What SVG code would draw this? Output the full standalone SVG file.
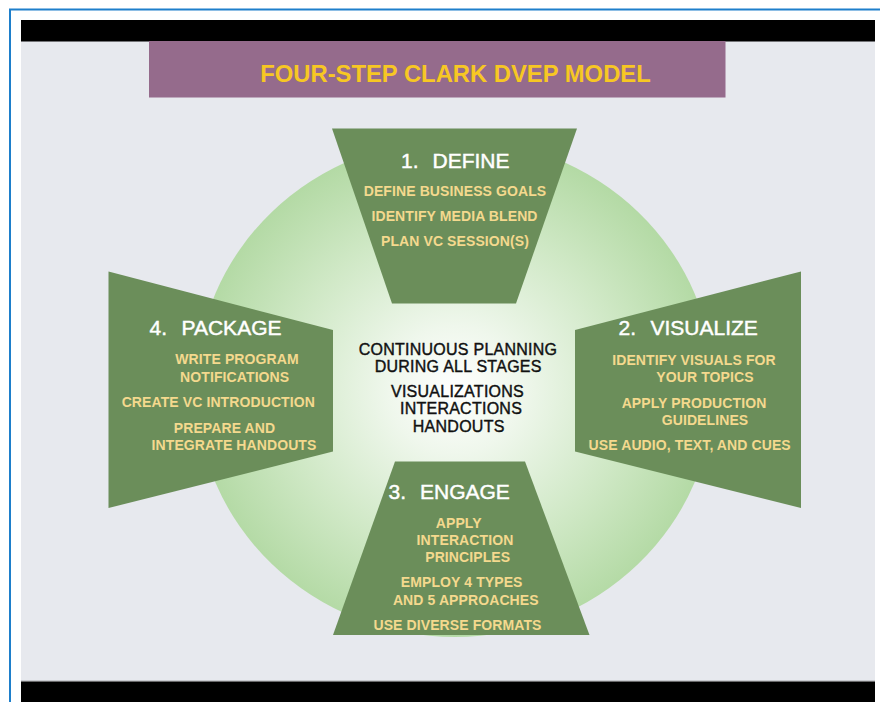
<svg xmlns="http://www.w3.org/2000/svg" width="880" height="702" viewBox="0 0 880 702">
  <defs>
    <radialGradient id="hubGlow" cx="455" cy="390" r="255" gradientUnits="userSpaceOnUse" gradientTransform="translate(455 388) scale(1.04 1) translate(-455 -388)">
      <stop offset="0" stop-color="#ffffff"/>
      <stop offset="0.25" stop-color="#eff7ec"/>
      <stop offset="0.65" stop-color="#cfe8c5"/>
      <stop offset="1" stop-color="#b2d9a3"/>
    </radialGradient>
    <style>
      .stage { fill: #6b8e5a; }
      .head { font-family: "Liberation Sans", Arial, sans-serif; font-size: 21px; fill: #ffffff; stroke: #ffffff; stroke-width: 0.45px; }
      .item { font-family: "Liberation Sans", Arial, sans-serif; font-size: 14px; font-weight: bold; fill: #f4d98e; text-anchor: middle; letter-spacing: 0.1px; }
      .hub { font-family: "Liberation Sans", Arial, sans-serif; font-size: 16px; fill: #111111; stroke: #111111; stroke-width: 0.4px; text-anchor: middle; letter-spacing: 0.25px; }
      .title { font-family: "Liberation Sans", Arial, sans-serif; font-size: 23.8px; font-weight: bold; fill: #f7c723; text-anchor: middle; }
    </style>
  </defs>

  <!-- page frame -->
  <rect x="0" y="0" width="880" height="702" fill="#ffffff"/>
  <line x1="9" y1="9.5" x2="880" y2="9.5" stroke="#1e7fcb" stroke-width="2"/>
  <line x1="10" y1="9" x2="10" y2="702" stroke="#1e7fcb" stroke-width="2"/>

  <!-- slide -->
  <rect x="21" y="41" width="854" height="640" fill="#e7e9ee"/>
  <rect x="21" y="20" width="854" height="21.5" fill="#000000"/>
  <line x1="21" y1="681" x2="875" y2="681" stroke="#a9abb0" stroke-width="1"/>
  <rect x="21" y="681.5" width="854" height="20.5" fill="#000000"/>

  <g id="title">
    <rect x="149" y="41" width="576.5" height="56.5" fill="#956b8c"/>
    <text class="title" x="455.5" y="81.5">FOUR-STEP CLARK DVEP MODEL</text>
  </g>

  <!-- central disc -->
  <ellipse cx="455" cy="388" rx="259" ry="249" fill="url(#hubGlow)"/>

  <g id="define">
    <polygon class="stage" points="332,128.5 577,128.5 516,303.5 392,303.5"/>
    <text class="head" x="401" y="167.5">1.<tspan x="432.5">DEFINE</tspan></text>
    <text class="item" x="455" y="196">DEFINE BUSINESS GOALS</text>
    <text class="item" x="454.5" y="221">IDENTIFY MEDIA BLEND</text>
    <text class="item" x="455" y="245.5">PLAN VC SESSION(S)</text>
  </g>

  <g id="visualize">
    <polygon class="stage" points="575,330 801,271.5 801,508 575,451.5"/>
    <text class="head" x="618.5" y="335">2.<tspan x="650.5">VISUALIZE</tspan></text>
    <text class="item" x="694" y="364.5">IDENTIFY VISUALS FOR</text>
    <text class="item" x="705" y="381.5">YOUR TOPICS</text>
    <text class="item" x="694" y="407.5">APPLY PRODUCTION</text>
    <text class="item" x="705" y="424.5">GUIDELINES</text>
    <text class="item" x="689.7" y="450">USE AUDIO, TEXT, AND CUES</text>
  </g>

  <g id="engage">
    <polygon class="stage" points="395,461.5 525,461.5 589.5,635 333,635"/>
    <text class="head" x="388.5" y="498.5">3.<tspan x="420">ENGAGE</tspan></text>
    <text class="item" x="458.7" y="527.5">APPLY</text>
    <text class="item" x="465" y="545">INTERACTION</text>
    <text class="item" x="467.7" y="561.7">PRINCIPLES</text>
    <text class="item" x="461.7" y="587.3">EMPLOY 4 TYPES</text>
    <text class="item" x="465.8" y="605">AND 5 APPROACHES</text>
    <text class="item" x="457.5" y="630">USE DIVERSE FORMATS</text>
  </g>

  <g id="package">
    <polygon class="stage" points="108.5,271.5 333,330 333,451.5 108.5,508"/>
    <text class="head" x="149.5" y="335">4.<tspan x="181.5">PACKAGE</tspan></text>
    <text class="item" x="237" y="364.3">WRITE PROGRAM</text>
    <text class="item" x="234.7" y="381.7">NOTIFICATIONS</text>
    <text class="item" x="218.3" y="407.3">CREATE VC INTRODUCTION</text>
    <text class="item" x="224.5" y="433.3">PREPARE AND</text>
    <text class="item" x="234" y="450">INTEGRATE HANDOUTS</text>
  </g>

  <g id="hub">
    <text class="hub" x="458" y="355">CONTINUOUS PLANNING</text>
    <text class="hub" x="458.2" y="372.3">DURING ALL STAGES</text>
    <text class="hub" x="457.5" y="396.7">VISUALIZATIONS</text>
    <text class="hub" x="461" y="414.3">INTERACTIONS</text>
    <text class="hub" x="458.7" y="431.5">HANDOUTS</text>
  </g>
</svg>
